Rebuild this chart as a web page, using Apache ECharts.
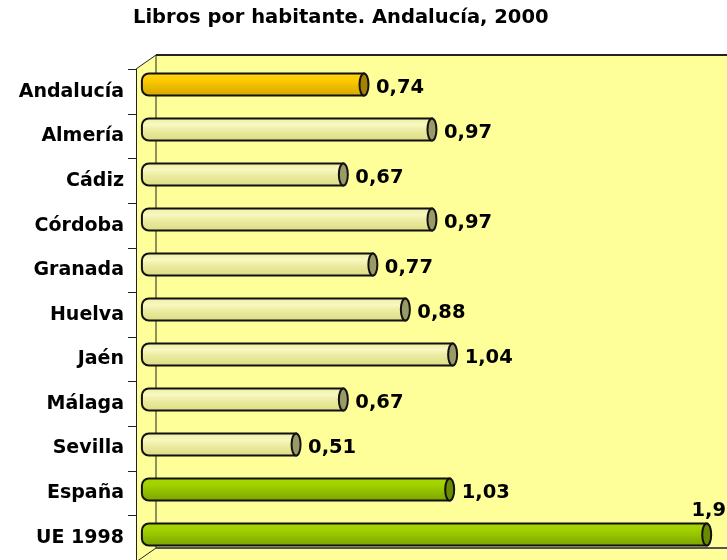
<!DOCTYPE html>
<html>
<head>
<meta charset="utf-8">
<script src="https://cdn.jsdelivr.net/npm/echarts@6/dist/echarts.min.js"></script>
<style>html,body{margin:0;padding:0;background:#fff}#c{width:727px;height:560px}</style>
</head>
<body>
<div id="c"></div>
<script>
const categories = ['Andalucía','Almería','Cádiz','Córdoba','Granada','Huelva','Jaén','Málaga','Sevilla','España','UE 1998'];
const values = [0.74, 0.97, 0.67, 0.97, 0.77, 0.88, 1.04, 0.67, 0.51, 1.03, 1.9];
const groups = ['region','prov','prov','prov','prov','prov','prov','prov','prov','ref','ref'];
const titleText = 'Libros por habitante. Andalucía, 2000';

const palettes = {
  region: {stops: ['#FFD41F','#FFCC00','#F2C000','#E3B200','#D6A800'], cap: '#A58300'},
  prov:   {stops: ['#EDED9E','#F8F8C2','#EEEEA6','#E4E492','#DADA86'], cap: '#9A9A66'},
  ref:    {stops: ['#A6D600','#A3D100','#96C400','#88B200','#7CA400'], cap: '#6A8A00'}
};
function grad(stops){
  return new echarts.graphic.LinearGradient(0,0,0,1,[
    {offset:0,color:stops[0]},{offset:0.3,color:stops[1]},{offset:0.5,color:stops[2]},{offset:0.75,color:stops[3]},{offset:1,color:stops[4]}
  ]);
}
const fmt = v => String(v).replace('.', ',');
const FONT = '"DejaVu Sans", "Liberation Sans", Arial, sans-serif';

const chart = echarts.init(document.getElementById('c'), null, {renderer:'canvas'});
chart.setOption({
  backgroundColor: '#ffffff',
  animation: false,
  title: {
    text: titleText, left: 133, top: 8, padding: 0,
    textStyle: {fontFamily: FONT, fontWeight: 'bold', fontSize: 19.5, color: '#000'}
  },
  graphic: [
    {type:'polygon', z:-10, silent:true, shape:{points:[[136,69],[156,55],[727,55],[727,560],[136,560]]}, style:{fill:'#FFFF99'}},
    {type:'line', z:-5, silent:true, shape:{x1:156,y1:55,x2:156,y2:548}, style:{stroke:'#222',lineWidth:1}},
    {type:'line', z:-5, silent:true, shape:{x1:156,y1:548,x2:727,y2:548}, style:{stroke:'#555',lineWidth:2}},
    {type:'line', z:-5, silent:true, shape:{x1:156,y1:548,x2:136,y2:562}, style:{stroke:'#222',lineWidth:1}},
    {type:'line', z:-5, silent:true, shape:{x1:136,y1:69,x2:156,y2:55}, style:{stroke:'#222',lineWidth:1}},
    {type:'line', z:-5, silent:true, shape:{x1:156,y1:55,x2:727,y2:55}, style:{stroke:'#222',lineWidth:2}}
  ],
  grid: [
    {left: 145.4, top: 62, width: 561.3, height: 495},
    {left: 136, top: 69.5, width: 10, height: 495}
  ],
  xAxis: [
    {type:'value', gridIndex:0, min:0, max:1.9, show:false},
    {type:'value', gridIndex:1, min:0, max:1, show:false}
  ],
  yAxis: [
    {type:'category', gridIndex:0, data:categories, inverse:true, show:false},
    {type:'category', gridIndex:1, data:categories, inverse:true, z:3,
     axisLine:{show:true, lineStyle:{color:'#222', width:1}},
     axisTick:{show:true, length:8, lineStyle:{color:'#222', width:1}},
     axisLabel:{margin:12, fontFamily:FONT, fontWeight:'bold', fontSize:19, color:'#000'},
     splitLine:{show:false}}
  ],
  series: [{
    type: 'custom',
    xAxisIndex: 0, yAxisIndex: 0,
    z: 5,
    clip: false,
    data: values.map((v,i) => [v, i]),
    encode: {x: 0, y: 1},
    renderItem: function(params, api){
      const v = api.value(0), i = api.value(1);
      const p1 = api.coord([v, i]);
      const p0 = api.coord([0, i]);
      const h = 22, rx = 4.5;
      const pal = palettes[groups[i]];
      const cy = p1[1];
      const children = [
        {type:'rect', shape:{x:p0[0]-3.5, y:cy-h/2, width:p1[0]-p0[0]+3.5, height:h, r:[7,0,0,7]},
         style:{fill:grad(pal.stops), stroke:'#111', lineWidth:2}},
        {type:'ellipse', shape:{cx:p1[0], cy:cy, rx:rx, ry:h/2},
         style:{fill:pal.cap, stroke:'#111', lineWidth:2}}
      ];
      const txt = fmt(v);
      const estW = txt.length * 12;
      if (p1[0] + 12 + estW > 727) {
        children.push({type:'text', style:{text:txt, x:p1[0]+2, y:cy-h/2-3, align:'center', verticalAlign:'bottom',
          fontFamily:FONT, fontWeight:'bold', fontSize:19.5, fill:'#000'}});
      } else {
        children.push({type:'text', style:{text:txt, x:p1[0]+12, y:cy+3, align:'left', verticalAlign:'middle',
          fontFamily:FONT, fontWeight:'bold', fontSize:19.5, fill:'#000'}});
      }
      return {type:'group', children};
    }
  }]
});
</script>
</body>
</html>
